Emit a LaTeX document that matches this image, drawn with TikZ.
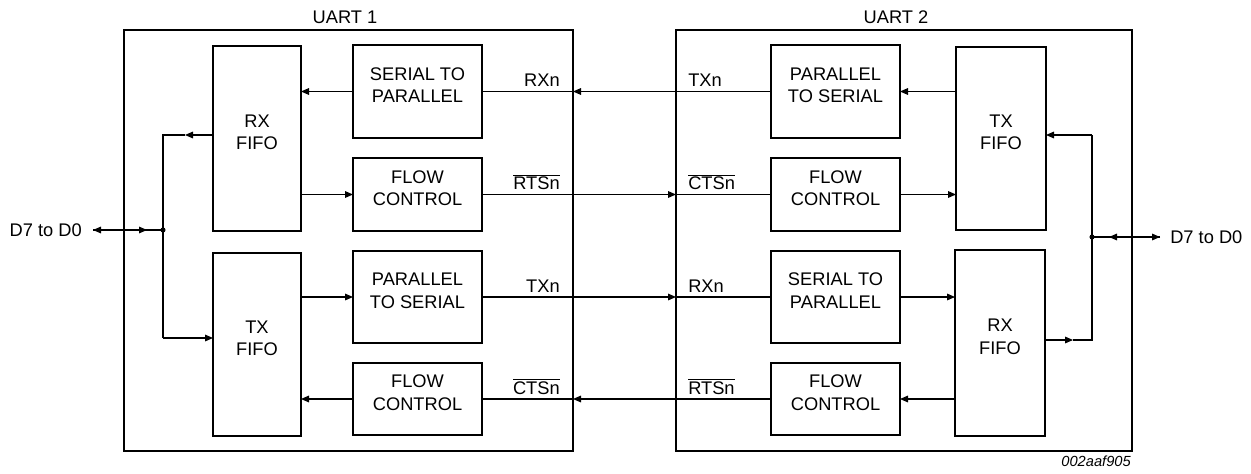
\documentclass[tikz,border=0pt]{standalone}
\usepackage{fontspec}
\setmainfont{Liberation Sans}
\usetikzlibrary{fit,arrows.meta}
\begin{document}
\begin{tikzpicture}[x=0.75pt,y=-0.75pt,
  outer/.style={draw,line width=2.1pt,inner sep=0pt,outer sep=0pt},
  blk/.style={draw,line width=1.6pt,inner sep=0pt,outer sep=0pt,align=center,
    font=\fontsize{13.7pt}{16.7pt}\selectfont},
  wire/.style={line width=0.8pt},
  arr/.style={wire,-{Triangle[length=6pt,width=5pt]}},
  lbl/.style={inner sep=0pt,font=\fontsize{13.7pt}{16.7pt}\selectfont},
  dot/.style={fill=black}]
\useasboundingbox (0,0) rectangle (1251,474);
% outer boxes
\node[outer,fit={(124,30) (573,451)}] (u1) {};
\node[outer,fit={(676,30) (1132,451)}] (u2) {};
\node[lbl,anchor=base] (t1) at (345,23.3) {UART 1};
\node[lbl,anchor=base] (t2) at (896,23.3) {UART 2};
% UART 1 blocks
\node[blk,fit={(213,46) (301,231)}] (rxf1) {RX\\FIFO};
\node[blk,fit={(213,253) (301,436)}] (txf1) {TX\\FIFO};
\node[blk,fit={(353,45) (482,138)}] (s2p1) {SERIAL TO\\PARALLEL};
\node[blk,fit={(353,158) (482,231)}] (fc1a) {FLOW\\CONTROL};
\node[blk,fit={(353,251) (482,343)}] (p2s1) {PARALLEL\\TO SERIAL};
\node[blk,fit={(353,363) (482,435)}] (fc1b) {FLOW\\CONTROL};
% UART 2 blocks
\node[blk,fit={(771,45) (900,138)}] (p2s2) {PARALLEL\\TO SERIAL};
\node[blk,fit={(771,158) (900,231)}] (fc2a) {FLOW\\CONTROL};
\node[blk,fit={(771,251) (900,343)}] (s2p2) {SERIAL TO\\PARALLEL};
\node[blk,fit={(771,363) (900,435)}] (fc2b) {FLOW\\CONTROL};
\node[blk,fit={(956,47) (1046,230)}] (txf2) {TX\\FIFO};
\node[blk,fit={(955,250) (1045,436)}] (rxf2) {RX\\FIFO};
% UART 1 internal
\draw[arr] (s2p1.west) -- (rxf1.east |- s2p1.west);
\draw[arr] (rxf1.east |- fc1a.west) -- (fc1a.west);
\draw[arr] (txf1.east |- p2s1.west) -- (p2s1.west);
\draw[arr] (fc1b.west) -- (txf1.east |- fc1b.west);
% left bus
\coordinate (b1t) at (163,135);
\coordinate (b1b) at (163,338);
\coordinate (j1) at (163,230);
\coordinate (a1) at (185,135);
\coordinate (d1) at (93,230);
\coordinate (m1) at (147,230);
\draw[arr] (rxf1.west |- b1t) -- (a1);
\draw[wire] (a1) -- (b1t) -- (b1b);
\draw[arr] (b1b) -- (txf1.west |- b1b);
\draw[arr] (j1) -- (d1);
\draw[arr] (d1) -- (m1);
\fill[dot] (j1) circle[radius=1.9pt];
\node[lbl,anchor=east] (dl1) at (82,230) {D7 to D0};
% UART 2 internal
\draw[arr] (txf2.west |- p2s2.east) -- (p2s2.east);
\draw[arr] (fc2a.east) -- (txf2.west |- fc2a.east);
\draw[arr] (s2p2.east) -- (rxf2.west |- s2p2.east);
\draw[arr] (rxf2.west |- fc2b.east) -- (fc2b.east);
% right bus
\coordinate (b2t) at (1092,135);
\coordinate (b2b) at (1092,340);
\coordinate (j2) at (1092,237);
\coordinate (a2) at (1073,340);
\coordinate (d2) at (1160,237);
\coordinate (m2) at (1109,237);
\draw[arr] (b2t) -- (txf2.east |- b2t);
\draw[arr] (rxf2.east |- b2b) -- (a2);
\draw[wire] (a2) -- (b2b) -- (b2t);
\draw[arr] (j2) -- (d2);
\draw[arr] (d2) -- (m2);
\fill[dot] (j2) circle[radius=1.9pt];
\node[lbl,anchor=west] (dl2) at (1170,237) {D7 to D0};
% interconnects
\draw[arr] (p2s2.west) -- (u1.east |- p2s2.west);
\draw[wire] (u1.east |- p2s2.west) -- (s2p1.east);
\draw[arr] (fc1a.east) -- (u2.west |- fc1a.east);
\draw[wire] (u2.west |- fc1a.east) -- (fc2a.west);
\draw[arr] (p2s1.east) -- (u2.west |- p2s1.east);
\draw[wire] (u2.west |- p2s1.east) -- (s2p2.west);
\draw[arr] (fc2b.west) -- (u1.east |- fc2b.west);
\draw[wire] (u1.east |- fc2b.west) -- (fc1b.east);
% signal labels
\node[lbl,anchor=base east] (l1) at (560,86.5) {RXn};
\node[lbl,anchor=base west] (l2) at (688,86.5) {TXn};
\node[lbl,anchor=base east] (l3) at (560,189.5) {$\overline{\mbox{RTSn}}$};
\node[lbl,anchor=base west] (l4) at (688,189.5) {$\overline{\mbox{CTSn}}$};
\node[lbl,anchor=base east] (l5) at (560,292) {TXn};
\node[lbl,anchor=base west] (l6) at (688,292) {RXn};
\node[lbl,anchor=base east] (l7) at (560,394) {$\overline{\mbox{CTSn}}$};
\node[lbl,anchor=base west] (l8) at (688,394) {$\overline{\mbox{RTSn}}$};
\node[inner sep=0pt,anchor=base east,font=\fontsize{11pt}{13pt}\selectfont\itshape] (id) at (1131,466.5) {002aaf905};
\end{tikzpicture}
\end{document}
